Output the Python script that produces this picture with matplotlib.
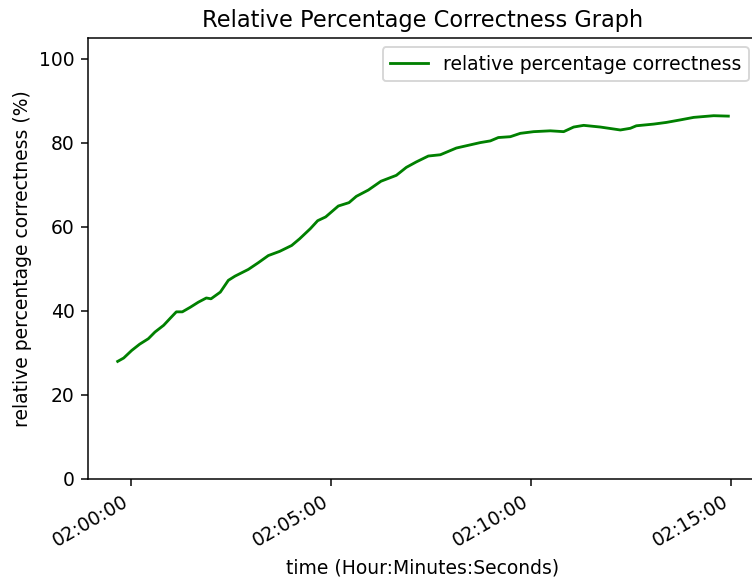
import datetime as dt
import matplotlib
matplotlib.use("Agg")
import matplotlib.pyplot as plt
import matplotlib.dates as mdates

# times (HH:MM:SS) and correctness in %
times = ["01:59:40", "01:59:49", "02:00:01", "02:00:13", "02:00:26", "02:00:36",
         "02:00:49", "02:00:59", "02:01:08", "02:01:17", "02:01:29", "02:01:41",
         "02:01:53", "02:02:00", "02:02:14", "02:02:26", "02:02:36", "02:02:56",
         "02:03:11", "02:03:26", "02:03:43", "02:04:01", "02:04:13", "02:04:29",
         "02:04:40", "02:04:52", "02:05:11", "02:05:27", "02:05:38", "02:05:56",
         "02:06:15", "02:06:38", "02:06:53", "02:07:08", "02:07:26", "02:07:44",
         "02:08:08", "02:08:44", "02:08:59", "02:09:11", "02:09:29", "02:09:44",
         "02:10:04", "02:10:29", "02:10:49", "02:11:04", "02:11:19", "02:11:44",
         "02:12:14", "02:12:29", "02:12:38", "02:13:04", "02:13:23", "02:13:44",
         "02:14:04", "02:14:34", "02:14:56"]
correctness = [28.0, 28.8, 30.6, 32.1, 33.4, 35.0,
               36.6, 38.3, 39.8, 39.8, 40.9, 42.1,
               43.1, 42.9, 44.5, 47.3, 48.3, 49.9,
               51.5, 53.2, 54.2, 55.6, 57.2, 59.6,
               61.5, 62.4, 65.0, 65.8, 67.3, 68.8,
               70.9, 72.3, 74.2, 75.5, 76.9, 77.2,
               78.8, 80.1, 80.5, 81.3, 81.5, 82.3,
               82.7, 82.9, 82.7, 83.8, 84.2, 83.8,
               83.1, 83.5, 84.1, 84.5, 84.9, 85.5,
               86.1, 86.5, 86.4]

t = [dt.datetime.strptime("2020-01-01 " + s, "%Y-%m-%d %H:%M:%S") for s in times]

dpi = 135
fig = plt.figure(figsize=(752 / dpi, 579 / dpi), dpi=dpi)
# the right edge of the axes runs slightly past the figure, as in the original
ax = fig.add_axes([88 / 752, 100 / 579, 670 / 752, 441 / 579])

ax.plot(t, correctness, color="green", label="relative percentage correctness")

ax.set_xlim(dt.datetime(2020, 1, 1, 1, 58, 55, 500000), dt.datetime(2020, 1, 1, 2, 15, 40, 500000))
ax.set_ylim(0, 105)
ax.xaxis.set_major_locator(mdates.MinuteLocator(byminute=[0, 5, 10, 15]))
ax.xaxis.set_major_formatter(mdates.DateFormatter("%H:%M:%S"))
for lbl in ax.get_xticklabels():
    lbl.set_rotation(30)
    lbl.set_ha("right")

ax.set_title("Relative Percentage Correctness Graph")
ax.set_xlabel("time (Hour:Minutes:Seconds)")
ax.set_ylabel("relative percentage correctness (%)")
ax.legend(loc="upper right")

fig.savefig("out.png", dpi=dpi)
